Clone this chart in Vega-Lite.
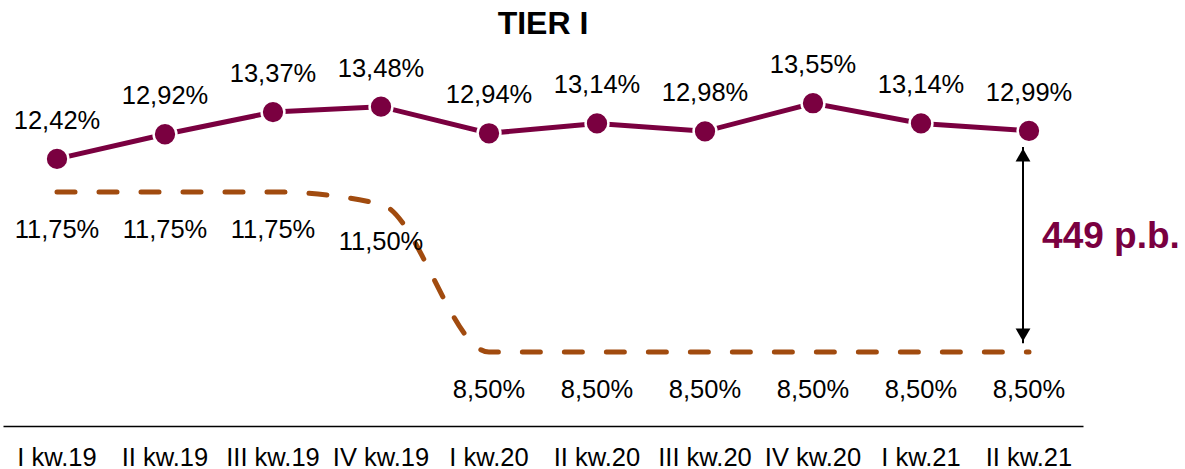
{
  "$schema": "https://vega.github.io/schema/vega-lite/v6.json",
  "width": 1080,
  "height": 376,
  "autosize": "none",
  "padding": {"left": 3, "top": 50, "right": 102, "bottom": 43},
  "background": "#ffffff",
  "config": {
    "view": {"stroke": null},
    "locale": {"number": {"decimal": ",", "thousands": " ", "grouping": [3], "currency": ["", " zł"]}}
  },
  "title": {"text": "TIER I", "font": "Liberation Sans", "fontSize": 32, "fontWeight": "bold", "color": "#000000", "anchor": "middle", "offset": 9},
  "datasets": {
    "main": [
      {"q": "I kw.19", "s": "tier", "v": 0.1242},
      {"q": "II kw.19", "s": "tier", "v": 0.1292},
      {"q": "III kw.19", "s": "tier", "v": 0.1337},
      {"q": "IV kw.19", "s": "tier", "v": 0.1348},
      {"q": "I kw.20", "s": "tier", "v": 0.1294},
      {"q": "II kw.20", "s": "tier", "v": 0.1314},
      {"q": "III kw.20", "s": "tier", "v": 0.1298},
      {"q": "IV kw.20", "s": "tier", "v": 0.1355},
      {"q": "I kw.21", "s": "tier", "v": 0.1314},
      {"q": "II kw.21", "s": "tier", "v": 0.1299},
      {"q": "I kw.19", "s": "min", "v": 0.1175},
      {"q": "II kw.19", "s": "min", "v": 0.1175},
      {"q": "III kw.19", "s": "min", "v": 0.1175},
      {"q": "IV kw.19", "s": "min", "v": 0.1150},
      {"q": "I kw.20", "s": "min", "v": 0.0850},
      {"q": "II kw.20", "s": "min", "v": 0.0850},
      {"q": "III kw.20", "s": "min", "v": 0.0850},
      {"q": "IV kw.20", "s": "min", "v": 0.0850},
      {"q": "I kw.21", "s": "min", "v": 0.0850},
      {"q": "II kw.21", "s": "min", "v": 0.0850}
    ],
    "arrow": [
      {"q": "II kw.21", "top": 0.1266, "bottom": 0.0868, "headTop": 0.1250, "headBottom": 0.0885, "lab": 0.1061, "text": "449 p.b."}
    ]
  },
  "encoding": {
    "x": {
      "field": "q",
      "type": "ordinal",
      "sort": null,
      "axis": {
        "title": null,
        "ticks": false,
        "domainColor": "#000000",
        "domainWidth": 1.5,
        "labelFont": "Liberation Sans",
        "labelFontSize": 25.5,
        "labelColor": "#000000",
        "labelPadding": 19,
        "labelAngle": 0
      }
    }
  },
  "layer": [
    {
      "data": {"name": "main"},
      "transform": [{"filter": "datum.s === 'min'"}],
      "mark": {"type": "line", "color": "#A14B0F", "strokeWidth": 5, "strokeDash": [18, 24], "strokeCap": "round", "interpolate": "monotone"},
      "encoding": {"y": {"field": "v", "type": "quantitative", "scale": {"domain": [0.07, 0.1463], "nice": false, "zero": false}, "axis": null}}
    },
    {
      "data": {"name": "main"},
      "transform": [{"filter": "datum.s === 'tier'"}],
      "mark": {"type": "line", "color": "#7A0040", "strokeWidth": 5},
      "encoding": {"y": {"field": "v", "type": "quantitative"}}
    },
    {
      "data": {"name": "main"},
      "transform": [{"filter": "datum.s === 'tier'"}],
      "mark": {"type": "point", "shape": "circle", "filled": true, "size": 520, "color": "#7A0040", "stroke": "#ffffff", "strokeWidth": 2.5, "opacity": 1},
      "encoding": {"y": {"field": "v", "type": "quantitative"}}
    },
    {
      "data": {"name": "main"},
      "transform": [{"filter": "datum.s === 'tier'"}],
      "mark": {"type": "text", "font": "Liberation Sans", "fontSize": 25.5, "color": "#000000", "baseline": "alphabetic", "align": "center", "dy": -30},
      "encoding": {"y": {"field": "v", "type": "quantitative"}, "text": {"field": "v", "type": "quantitative", "format": ".2%"}}
    },
    {
      "data": {"name": "main"},
      "transform": [{"filter": "datum.s === 'min'"}],
      "mark": {"type": "text", "font": "Liberation Sans", "fontSize": 25.5, "color": "#000000", "baseline": "alphabetic", "align": "center", "dy": 46},
      "encoding": {"y": {"field": "v", "type": "quantitative"}, "text": {"field": "v", "type": "quantitative", "format": ".2%"}}
    },
    {
      "data": {"name": "arrow"},
      "mark": {"type": "rule", "color": "#000000", "strokeWidth": 2, "xOffset": -6},
      "encoding": {"y": {"field": "top", "type": "quantitative"}, "y2": {"field": "bottom"}}
    },
    {
      "data": {"name": "arrow"},
      "mark": {"type": "point", "shape": "triangle-up", "filled": true, "size": 220, "color": "#000000", "opacity": 1, "xOffset": -6},
      "encoding": {"y": {"field": "headTop", "type": "quantitative"}}
    },
    {
      "data": {"name": "arrow"},
      "mark": {"type": "point", "shape": "triangle-down", "filled": true, "size": 220, "color": "#000000", "opacity": 1, "xOffset": -6},
      "encoding": {"y": {"field": "headBottom", "type": "quantitative"}}
    },
    {
      "data": {"name": "arrow"},
      "mark": {"type": "text", "font": "Liberation Sans", "fontSize": 37, "fontWeight": "bold", "color": "#7A0040", "baseline": "alphabetic", "align": "center", "dx": 82},
      "encoding": {"y": {"field": "lab", "type": "quantitative"}, "text": {"field": "text"}}
    }
  ]
}
